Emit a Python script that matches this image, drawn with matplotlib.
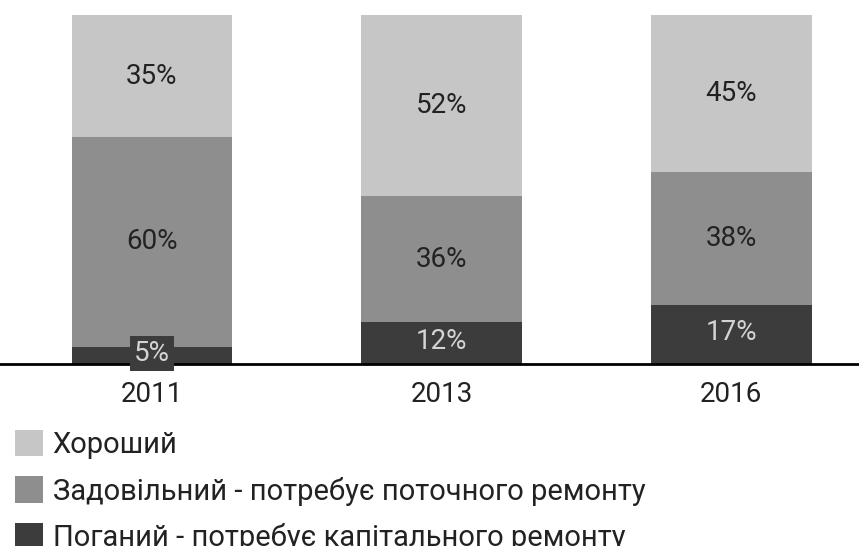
import matplotlib.pyplot as plt
import numpy as np

plt.rcParams['font.family'] = ['Roboto', 'DejaVu Sans']

years = ['2011', '2013', '2016']
poor = [5, 12, 17]
fair = [60, 36, 38]
good = [35, 52, 45]
labels = ['Хороший',
          'Задовільний - потребує поточного ремонту',
          'Поганий - потребує капітального ремонту']
colors = ['#c6c6c6', '#8e8e8e', '#3c3c3c']

fig = plt.figure(figsize=(8.59, 5.46), dpi=100)
ax = fig.add_axes([0, 182 / 546, 1, 349 / 546])

x = np.arange(len(years))
width = 0.556
b1 = ax.bar(x, poor, width, color=colors[2])
b2 = ax.bar(x, fair, width, bottom=poor, color=colors[1])
b3 = ax.bar(x, good, width, bottom=np.add(poor, fair), color=colors[0])

for i in range(len(years)):
    # small dark segment gets a boxed label so it stays readable
    box = dict(boxstyle='square,pad=0.16', fc=colors[2], ec='none') if poor[i] < 8 else None
    ax.text(x[i], poor[i] / 2 + 0.5, f'{poor[i]}%', ha='center', va='center',
            fontsize=20, color='#d4d4d4', bbox=box, zorder=5)
    ax.text(x[i], poor[i] + fair[i] / 2, f'{fair[i]}%', ha='center', va='center',
            fontsize=20, color='#222222')
    ax.text(x[i], poor[i] + fair[i] + good[i] / 2, f'{good[i]}%', ha='center',
            va='center', fontsize=20, color='#222222')

ax.set_xlim(-0.525, 2.442)
ax.set_ylim(0, 100)
for s in ['top', 'left', 'right']:
    ax.spines[s].set_visible(False)
ax.spines['bottom'].set_linewidth(2)
ax.set_yticks([])
ax.set_xticks(x, years, fontsize=20, color='#222222')
ax.tick_params(axis='x', length=0, pad=12)

fig.legend([b3, b2, b1], labels, loc='upper left', bbox_to_anchor=(0.017, 0.213),
           frameon=False, fontsize=21, handlelength=0.96, handleheight=1.03,
           handletextpad=0.34, labelspacing=0.59, borderaxespad=0, borderpad=0,
           labelcolor='#222222')

fig.savefig('out.png')
